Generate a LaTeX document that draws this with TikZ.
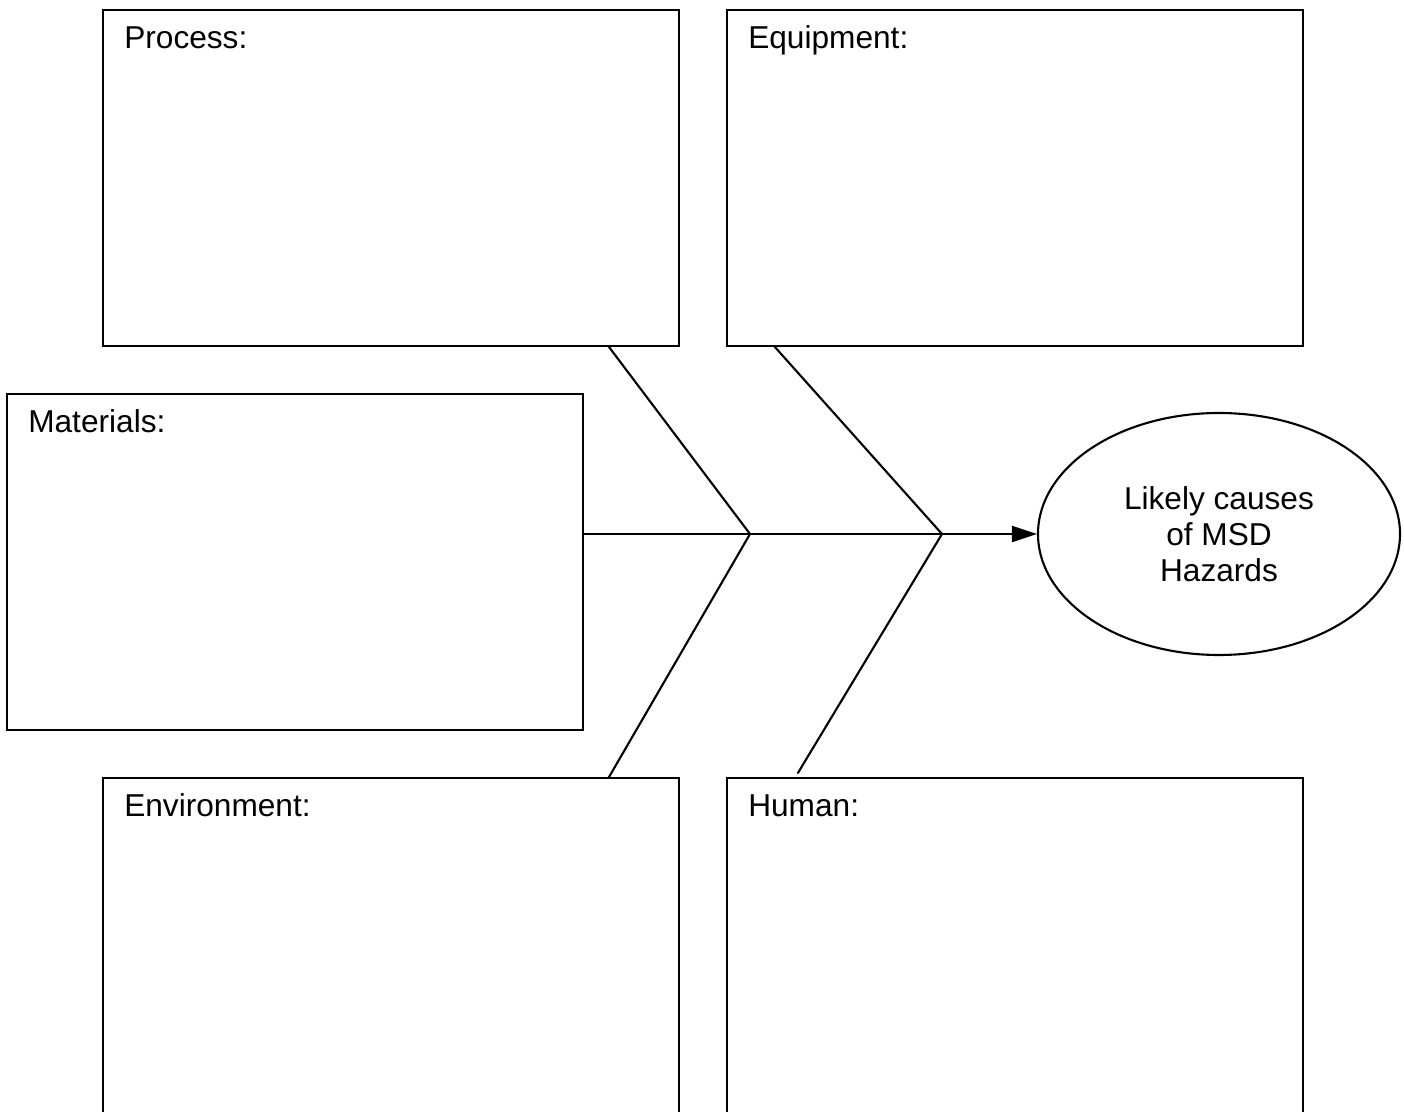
\documentclass[tikz,border=0pt]{standalone}
\usepackage{fontspec}
\setmainfont{Liberation Sans}
\usepackage{tkz-euclide}
\usetikzlibrary{arrows.meta, shapes.geometric}

\tikzset{
  causebox/.style={draw, line width=1.2pt, minimum width=11.52cm, minimum height=6.72cm, inner sep=0pt},
  boxlabel/.style={anchor=base west, inner sep=0pt, font=\fontsize{18}{21}\selectfont},
  bone/.style={line width=1.2pt}
}

\begin{document}
\begin{tikzpicture}
\useasboundingbox (0,0) rectangle (28.08,22.22);
% cause boxes
\node[causebox] (process) at (7.82,18.66) {};
\node[causebox] (equipment) at (20.30,18.66) {};
\node[causebox] (materials) at (5.90,10.98) {};
\node[causebox] (environment) at (7.82,3.30) {};
\node[causebox] (human) at (20.30,3.30) {};
\node[boxlabel] at ([shift={(0.44,-0.80)}]process.north west) {Process:};
\node[boxlabel] at ([shift={(0.44,-0.80)}]equipment.north west) {Equipment:};
\node[boxlabel] at ([shift={(0.44,-0.80)}]materials.north west) {Materials:};
\node[boxlabel] at ([shift={(0.44,-0.80)}]environment.north west) {Environment:};
\node[boxlabel] at ([shift={(0.44,-0.80)}]human.north west) {Human:};
% effect
\node[draw, ellipse, line width=1.2pt, minimum width=7.24cm, minimum height=4.84cm, inner sep=0pt,
  align=center, font=\fontsize{18}{20.5}\selectfont] (msd) at (24.38,11.54) {Likely causes\\of MSD\\Hazards};
% bones
\tkzDefPoints{15/11.54/J, 18.84/11.54/K}
\coordinate (P) at ([xshift=-1.42cm]process.south east);
\coordinate (Q) at ([xshift=0.98cm]equipment.south west);
\coordinate (E) at ([xshift=-1.42cm]environment.north east);
\coordinate (H) at ([shift={(1.44cm,0.08cm)}]human.north west);
\coordinate (M) at ([yshift=0.56cm]materials.east);
\tkzDrawSegments[bone](P,J Q,K E,J H,K M,J J,K)
\draw[bone, -{Triangle[length=0.5cm,width=0.32cm]}] (K) -- (msd);
\end{tikzpicture}
\end{document}
